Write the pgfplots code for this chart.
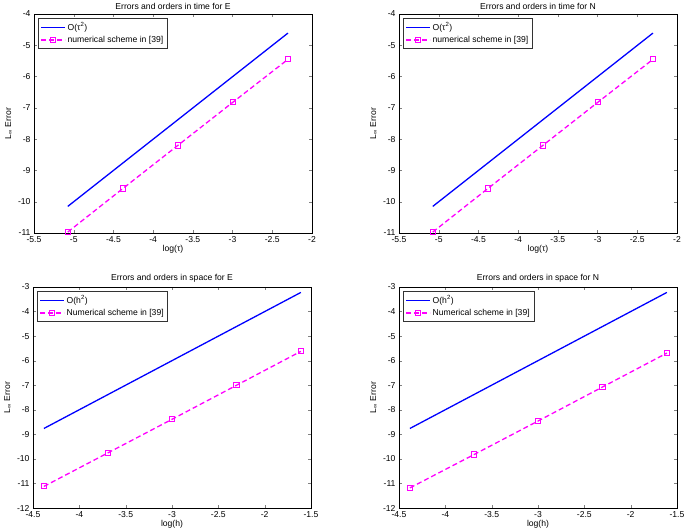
\documentclass[border=0pt]{standalone}
\usepackage{fontspec}
\setmainfont{Liberation Sans}
\usepackage{pgfplots}
\pgfplotsset{compat=1.18}

\definecolor{matblue}{RGB}{0,0,255}
\definecolor{matmag}{RGB}{255,0,255}

\pgfplotsset{
  errplot/.style={
    scale only axis, width=278pt, height=219pt,
    anchor=south west,
    /pgf/number format/assume math mode=true,
    tick label style={font=\fontsize{8.6}{9}\selectfont},
    label style={font=\fontsize{8.6}{9}\selectfont},
    title style={font=\fontsize{8.6}{9}\selectfont, yshift=-5pt},
    xlabel style={yshift=4pt},
    ylabel style={yshift=-1pt},
    tick align=inside, major tick length=3pt,
    legend style={font=\fontsize{8.6}{9}\selectfont, at={(0.015,0.98)}, anchor=north west,
      draw=black!80, inner sep=2pt, row sep=0pt,
      cells={anchor=west}},
    legend image code/.code={
      \draw[mark repeat=2, mark phase=2, #1] plot coordinates {(0pt,0pt) (12pt,0pt) (24pt,0pt)};},
  },
  refline/.style={draw=matblue, color=matblue, line width=1.3pt, mark=none},
  numline/.style={draw=matmag, color=matmag, line width=1.3pt, dash pattern=on 5pt off 3pt,
    mark=square, mark size=2.6pt, mark options={solid, fill=matmag!25, line width=1pt}},
}

\begin{document}
\begin{tikzpicture}
\path[use as bounding box] (0,0) rectangle (685pt,531pt);

% top left: time, E
\begin{axis}[errplot, at={(34pt,298pt)},
  xmin=-5.5, xmax=-2, ymin=-11, ymax=-4,
  xtick={-5.5,-5,...,-2}, ytick={-11,-10,...,-4},
  title={Errors and orders in time for E},
  xlabel={log(τ)}, ylabel={L\textsubscript{∞} Error}]
\addplot[refline] coordinates {(-5.075,-10.15) (-2.303,-4.61)};
\addlegendentry{O(τ\textsuperscript{2})}
\addplot[numline] coordinates {(-5.075,-10.97) (-4.382,-9.58) (-3.689,-8.20) (-2.996,-6.82) (-2.303,-5.45)};
\addlegendentry{numerical scheme in [39]}
\end{axis}

% top right: time, N
\begin{axis}[errplot, at={(399pt,298pt)},
  xmin=-5.5, xmax=-2, ymin=-11, ymax=-4,
  xtick={-5.5,-5,...,-2}, ytick={-11,-10,...,-4},
  title={Errors and orders in time for N},
  xlabel={log(τ)}, ylabel={L\textsubscript{∞} Error}]
\addplot[refline] coordinates {(-5.075,-10.15) (-2.303,-4.61)};
\addlegendentry{O(τ\textsuperscript{2})}
\addplot[numline] coordinates {(-5.075,-10.97) (-4.382,-9.58) (-3.689,-8.20) (-2.996,-6.82) (-2.303,-5.45)};
\addlegendentry{numerical scheme in [39]}
\end{axis}

% bottom left: space, E
\begin{axis}[errplot, at={(33pt,23pt)}, height=221pt,
  xmin=-4.5, xmax=-1.5, ymin=-12, ymax=-3,
  xtick={-4.5,-4,...,-1.5}, ytick={-12,-11,...,-3},
  title={Errors and orders in space for E},
  xlabel={log(h)}, ylabel={L\textsubscript{∞} Error}]
\addplot[refline] coordinates {(-4.382,-8.76) (-1.609,-3.22)};
\addlegendentry{O(h\textsuperscript{2})}
\addplot[numline] coordinates {(-4.382,-11.12) (-3.689,-9.75) (-2.996,-8.38) (-2.303,-7.00) (-1.609,-5.62)};
\addlegendentry{Numerical scheme in [39]}
\end{axis}

% bottom right: space, N
\begin{axis}[errplot, at={(399pt,23pt)}, height=221pt,
  xmin=-4.5, xmax=-1.5, ymin=-12, ymax=-3,
  xtick={-4.5,-4,...,-1.5}, ytick={-12,-11,...,-3},
  title={Errors and orders in space for N},
  xlabel={log(h)}, ylabel={L\textsubscript{∞} Error}]
\addplot[refline] coordinates {(-4.382,-8.76) (-1.609,-3.22)};
\addlegendentry{O(h\textsuperscript{2})}
\addplot[numline] coordinates {(-4.382,-11.18) (-3.689,-9.82) (-2.996,-8.45) (-2.303,-7.07) (-1.609,-5.69)};
\addlegendentry{Numerical scheme in [39]}
\end{axis}
\end{tikzpicture}
\end{document}
